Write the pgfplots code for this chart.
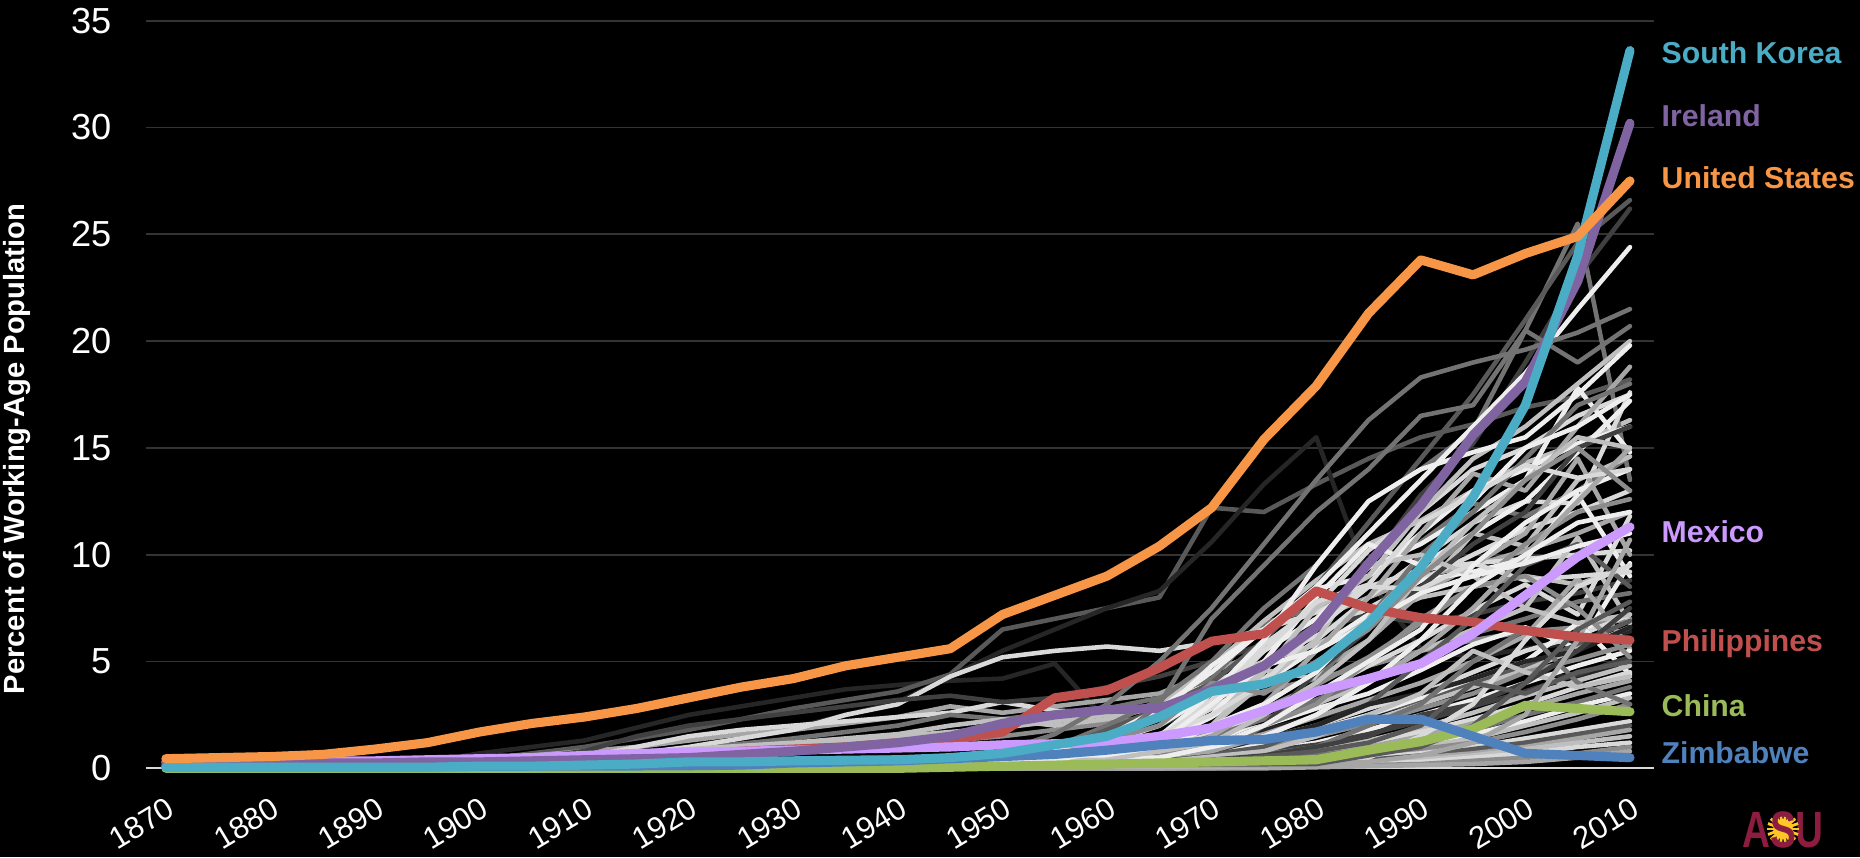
\documentclass[border=0pt]{standalone}
\usepackage{pgfplots}
\pgfplotsset{compat=1.18}
\usepackage{fontspec}
\setmainfont{Liberation Sans}

\definecolor{usor}{HTML}{F79646}
\definecolor{skteal}{HTML}{4BACC6}
\definecolor{irpur}{HTML}{8064A2}
\definecolor{phred}{HTML}{C0504D}
\definecolor{cngreen}{HTML}{9BBB59}
\definecolor{zwblue}{HTML}{4F81BD}
\definecolor{mxlav}{HTML}{CC99FF}
\definecolor{gridc}{HTML}{333333}
\definecolor{zeroc}{HTML}{D9D9D9}
\definecolor{asumaroon}{HTML}{8C1D40}
\definecolor{asugold}{HTML}{FFC627}
\definecolor{g1}{HTML}{262626}
\definecolor{g2}{HTML}{404040}
\definecolor{g3}{HTML}{595959}
\definecolor{g4}{HTML}{737373}
\definecolor{g5}{HTML}{8C8C8C}
\definecolor{g6}{HTML}{A6A6A6}
\definecolor{g7}{HTML}{BFBFBF}
\definecolor{g8}{HTML}{D9D9D9}
\definecolor{g9}{HTML}{EEEEEE}

% one grey country line
\newcommand{\gline}[2]{\addplot[gl, color=#1] coordinates {#2};}

\begin{document}
\begin{tikzpicture}
\fill[black] (0,0) rectangle (18.6,8.57);
\useasboundingbox (0,0) rectangle (18.6,8.57);
\begin{axis}[
    at={(1.46cm,0.887cm)}, anchor=south west,
    scale only axis, width=15.08cm, height=7.476cm,
    xmin=1868.1, xmax=2012.3, ymin=0, ymax=35,
    clip=false,
    axis line style={draw=none},
    ymajorgrids, grid style={gridc, line width=0.55pt},
    major tick length=0pt,
    xtick={1870,1880,...,2010},
    xticklabels={1870,1880,1890,1900,1910,1920,1930,1940,1950,1960,1970,1980,1990,2000,2010},
    ytick={0,5,...,35},
    yticklabels={0,5,10,15,20,25,30,35},
    ticklabel style={text=white},
    yticklabel style={font=\fontsize{10.3}{12}\selectfont, anchor=east, inner sep=0pt, xshift=-0.34cm},
    xticklabel style={font=\fontsize{8.8}{10}\selectfont, inner sep=0pt, xshift=0.0cm, yshift=-0.27cm, rotate=31, anchor=north east},
    gl/.style={line width=1.3pt, line cap=round, line join=round},
    hl/.style={line width=2.6pt, line cap=round, line join=round},
]
\draw[zeroc, line width=0.6pt] (axis cs:1868.1,0) -- (axis cs:2012.3,0);

% early risers
\gline{g1}{(1870,0)(1890,0.1)(1895,0.3)(1900,0.7)(1905,1.0)(1910,1.3)(1915,1.9)(1920,2.5)(1925,2.9)(1930,3.3)(1935,3.7)(1940,3.9)(1945,4.1)(1950,4.2)(1955,4.9)(1960,2.2)(1965,0.6)(1970,1.2)(1975,1.8)(1980,2.4)(1985,3.0)(1990,3.3)(1995,3.9)(2000,4.6)(2005,4.2)(2010,4.9)}
\gline{g3}{(1870,0)(1895,0.1)(1900,0.4)(1905,0.7)(1910,1.0)(1915,1.4)(1920,1.8)(1925,2.3)(1930,2.8)(1935,3.2)(1940,3.6)(1945,4.4)(1950,6.5)(1955,7.0)(1960,7.5)(1965,8.0)(1970,12.2)(1975,12.0)(1980,13.3)(1985,14.5)(1990,15.5)(1995,16.1)(2000,16.9)(2005,17.4)(2010,18.2)}
\gline{g1}{(1870,0)(1905,0.1)(1910,0.3)(1915,0.6)(1920,1.0)(1925,1.4)(1930,1.9)(1935,2.5)(1940,3.1)(1945,4.3)(1950,5.5)(1955,6.5)(1960,7.5)(1965,8.3)(1970,10.6)(1975,13.3)(1980,15.5)(1985,8.8)(1990,5.6)(1995,5.2)(2000,5.6)(2005,5.9)(2010,6.4)}
\gline{g6}{(1870,0)(1895,0.1)(1900,0.3)(1905,0.6)(1910,0.8)(1915,1.0)(1920,1.3)(1925,1.6)(1930,1.8)(1935,2.1)(1940,2.4)(1945,2.9)(1950,2.6)(1955,2.9)(1960,3.2)(1965,3.5)(1970,4.5)(1975,5.5)(1980,7.0)(1985,8.0)(1990,9.0)(1995,9.5)(2000,10.2)(2005,11.0)(2010,12.0)}
\gline{g8}{(1870,0)(1900,0.2)(1905,0.3)(1910,0.5)(1915,1.0)(1920,1.5)(1925,1.8)(1930,2.0)(1935,2.2)(1940,2.4)(1945,2.6)(1950,3.1)(1955,2.7)(1960,2.6)(1965,3.0)(1970,4.0)(1975,5.0)(1980,6.2)(1985,7.5)(1990,8.8)(1995,10.0)(2000,11.2)(2005,12.0)(2010,13.0)}
\gline{g4}{(1870,0)(1900,0.1)(1910,0.4)(1920,0.9)(1930,1.4)(1940,2.0)(1945,2.5)(1950,2.3)(1955,2.6)(1960,2.8)(1965,3.3)(1970,4.2)(1975,6.8)(1980,7.5)(1985,9.0)(1990,10.6)(1995,12.4)(2000,11.8)(2005,13.0)(2010,14.6)}
\gline{g7}{(1870,0)(1910,0.2)(1920,0.6)(1930,1.0)(1940,1.5)(1945,1.7)(1950,1.9)(1955,2.2)(1960,2.5)(1965,3.0)(1970,3.8)(1975,5.0)(1980,5.8)(1985,7.0)(1990,8.0)(1995,8.5)(2000,9.0)(2005,8.6)(2010,9.5)}
\gline{g5}{(1870,0)(1900,0.1)(1910,0.3)(1920,0.7)(1930,1.0)(1940,1.2)(1945,1.3)(1950,1.5)(1955,1.8)(1960,2.1)(1965,2.5)(1970,3.0)(1975,3.6)(1980,4.2)(1985,4.8)(1990,5.5)(1995,6.0)(2000,6.4)(2005,6.6)(2010,7.0)}
\gline{g8}{(1870,0)(1910,0.4)(1920,1.0)(1925,1.4)(1930,1.8)(1935,2.5)(1940,3.0)(1945,4.3)(1950,5.2)(1955,5.5)(1960,5.7)(1965,5.5)(1970,5.9)(1975,6.5)(1980,7.3)(1985,8.5)(1990,9.3)(1995,9.6)(2000,9.8)(2005,10.0)(2010,10.2)}
\gline{g2}{(1870,0)(1895,0.1)(1900,0.2)(1905,0.5)(1910,0.8)(1915,1.5)(1920,2.0)(1925,2.3)(1930,2.6)(1935,2.9)(1940,3.2)(1945,3.4)(1950,3.1)(1955,3.3)(1960,3.8)(1965,4.3)(1970,5.0)(1975,5.8)(1980,6.5)(1985,7.2)(1990,6.8)(1995,7.2)(2000,7.8)(2005,8.2)(2010,8.8)}
\gline{g7}{(1870,0)(1890,0.1)(1900,0.3)(1910,0.6)(1920,0.9)(1930,1.2)(1940,1.6)(1945,2.0)(1950,2.3)(1955,2.0)(1960,2.3)(1965,2.9)(1970,4.8)(1975,6.9)(1980,8.8)(1985,10.5)(1990,11.6)(1995,13.0)(2000,14.3)(2005,15.2)(2010,16.3)}

% post-war risers
\gline{g4}{(1870,0)(1940,0.1)(1950,0.5)(1955,1.0)(1960,2.0)(1965,3.2)(1970,5.0)(1975,7.5)(1980,9.5)(1985,12.5)(1990,14.0)(1995,15.8)(2000,20.5)(2005,25.5)(2010,13.5)}
\gline{g3}{(1870,0)(1940,0.1)(1950,0.4)(1955,0.9)(1960,1.8)(1965,2.8)(1970,4.0)(1975,6.0)(1980,8.5)(1985,11.5)(1990,14.5)(1995,17.5)(2000,21.0)(2005,24.6)(2010,26.6)}
\gline{g2}{(1870,0)(1940,0.1)(1950,0.3)(1955,0.6)(1960,1.2)(1965,2.0)(1970,3.2)(1975,4.8)(1980,6.8)(1985,9.5)(1990,12.8)(1995,15.2)(2000,19.0)(2005,23.0)(2010,26.2)}
\gline{g9}{(1870,0)(1940,0.1)(1950,0.6)(1955,1.0)(1960,1.5)(1965,2.8)(1970,4.5)(1975,6.5)(1980,8.5)(1985,11.0)(1990,13.5)(1995,16.0)(2000,18.5)(2005,21.5)(2010,24.4)}
\gline{g4}{(1870,0)(1940,0.2)(1950,0.8)(1955,1.6)(1960,3.0)(1965,5.0)(1970,7.5)(1975,10.5)(1980,13.5)(1985,16.3)(1990,18.3)(1995,19.0)(2000,19.6)(2005,20.4)(2010,21.5)}

\gline{g9}{(1870,0)(1940,0.05)(1950,0.5)(1955,0.8)(1960,1.2)(1965,2.0)(1970,3.5)(1975,5.5)(1980,7.0)(1985,9.4)(1990,10.5)(1995,12.0)(2000,13.5)(2005,17.8)(2010,14.8)}
\gline{g8}{(1870,0)(1940,0.05)(1950,0.3)(1955,0.5)(1960,0.9)(1965,1.5)(1970,2.8)(1975,4.2)(1980,6.0)(1985,8.0)(1990,9.8)(1995,11.5)(2000,12.5)(2005,12.4)(2010,17.6)}
\gline{g7}{(1870,0)(1940,0.05)(1950,0.4)(1955,0.6)(1960,1.0)(1965,1.6)(1970,2.5)(1975,4.6)(1980,4.2)(1985,7.0)(1990,8.2)(1995,11.0)(2000,10.4)(2005,13.5)(2010,14.6)}
\gline{g9}{(1870,0)(1940,0.05)(1950,0.6)(1955,1.0)(1960,1.5)(1965,2.5)(1970,4.8)(1975,6.5)(1980,8.4)(1985,9.0)(1990,11.0)(1995,13.0)(2000,14.0)(2005,15.2)(2010,16.0)}
\gline{g6}{(1870,0)(1940,0.05)(1950,0.2)(1955,0.4)(1960,0.7)(1965,1.2)(1970,2.0)(1975,3.0)(1980,4.5)(1985,6.0)(1990,8.2)(1995,9.5)(2000,11.0)(2005,14.5)(2010,10.0)}
\gline{g8}{(1870,0)(1940,0.05)(1950,0.3)(1955,0.5)(1960,0.8)(1965,1.5)(1970,3.2)(1975,5.8)(1980,7.6)(1985,10.2)(1990,12.0)(1995,14.0)(2000,15.0)(2005,16.5)(2010,17.5)}
\gline{g5}{(1870,0)(1940,0.05)(1950,0.1)(1955,0.2)(1960,0.5)(1965,1.0)(1970,1.8)(1975,2.8)(1980,3.9)(1985,5.2)(1990,6.8)(1995,8.5)(2000,10.5)(2005,12.0)(2010,12.6)}
\gline{g9}{(1870,0)(1940,0.05)(1950,0.2)(1955,0.4)(1960,0.6)(1965,1.2)(1970,2.4)(1975,4.0)(1980,5.6)(1985,7.2)(1990,8.8)(1995,9.2)(2000,9.8)(2005,12.8)(2010,9.0)}
\gline{g8}{(1870,0)(1940,0.05)(1950,0.2)(1955,0.3)(1960,0.5)(1965,0.9)(1970,1.6)(1975,2.6)(1980,3.5)(1985,4.8)(1990,6.0)(1995,7.4)(2000,8.6)(2005,7.2)(2010,11.8)}
\gline{g7}{(1870,0)(1940,0.05)(1950,0.1)(1955,0.3)(1960,0.5)(1965,0.8)(1970,1.4)(1975,2.0)(1980,3.0)(1985,4.0)(1990,5.5)(1995,6.5)(2000,7.5)(2005,10.8)(2010,6.8)}
\gline{g4}{(1870,0)(1940,0.05)(1950,0.1)(1955,0.2)(1960,0.4)(1965,0.8)(1970,1.5)(1975,2.3)(1980,3.2)(1985,4.2)(1990,5.0)(1995,6.3)(2000,7.0)(2005,7.8)(2010,8.2)}
\gline{g9}{(1870,0)(1940,0.05)(1950,0.2)(1955,0.3)(1960,0.5)(1965,0.8)(1970,1.3)(1975,2.0)(1980,2.8)(1985,3.5)(1990,4.6)(1995,5.8)(2000,6.6)(2005,5.6)(2010,9.6)}
\gline{g6}{(1870,0)(1940,0.05)(1950,0.1)(1955,0.2)(1960,0.3)(1965,0.6)(1970,1.0)(1975,1.6)(1980,2.4)(1985,3.2)(1990,4.0)(1995,5.0)(2000,6.2)(2005,8.9)(2010,5.6)}
\gline{g8}{(1870,0)(1940,0.05)(1950,0.1)(1955,0.2)(1960,0.3)(1965,0.5)(1970,0.9)(1975,1.4)(1980,2.0)(1985,2.8)(1990,3.5)(1995,4.5)(2000,5.5)(2005,6.2)(2010,7.2)}
\gline{g3}{(1870,0)(1940,0.05)(1950,0.1)(1955,0.2)(1960,0.3)(1965,0.5)(1970,0.8)(1975,1.2)(1980,1.8)(1985,2.5)(1990,3.2)(1995,4.0)(2000,4.8)(2005,5.8)(2010,6.9)}
\gline{g7}{(1870,0)(1940,0.05)(1950,0.05)(1955,0.1)(1960,0.2)(1965,0.4)(1970,0.7)(1975,1.0)(1980,1.5)(1985,2.2)(1990,3.0)(1995,3.8)(2000,4.6)(2005,5.6)(2010,6.6)}
\gline{g9}{(1870,0)(1940,0.05)(1950,0.1)(1955,0.2)(1960,0.3)(1965,0.5)(1970,0.8)(1975,1.2)(1980,1.8)(1985,2.5)(1990,3.3)(1995,4.2)(2000,5.0)(2005,6.8)(2010,4.4)}
\gline{g5}{(1870,0)(1940,0.05)(1950,0.05)(1955,0.1)(1960,0.2)(1965,0.3)(1970,0.6)(1975,1.0)(1980,1.5)(1985,2.1)(1990,2.8)(1995,3.5)(2000,4.5)(2005,5.1)(2010,5.8)}
\gline{g9}{(1870,0)(1940,0.05)(1950,0.05)(1955,0.1)(1960,0.2)(1965,0.3)(1970,0.5)(1975,0.8)(1980,1.2)(1985,1.8)(1990,2.5)(1995,3.2)(2000,4.0)(2005,4.8)(2010,5.5)}
\gline{g2}{(1870,0)(1940,0.05)(1950,0.05)(1955,0.1)(1960,0.2)(1965,0.3)(1970,0.5)(1975,0.8)(1980,1.1)(1985,1.6)(1990,2.2)(1995,2.9)(2000,3.6)(2005,4.4)(2010,5.2)}
\gline{g7}{(1870,0)(1940,0.05)(1950,0.05)(1955,0.1)(1960,0.15)(1965,0.25)(1970,0.4)(1975,0.6)(1980,0.9)(1985,1.3)(1990,1.9)(1995,2.6)(2000,3.4)(2005,4.1)(2010,4.8)}
\gline{g8}{(1870,0)(1940,0.05)(1950,0.05)(1955,0.1)(1960,0.15)(1965,0.2)(1970,0.35)(1975,0.5)(1980,0.8)(1985,1.2)(1990,1.7)(1995,2.3)(2000,3.0)(2005,3.8)(2010,4.5)}
\gline{g6}{(1870,0)(1950,0)(1955,0.05)(1960,0.1)(1965,0.2)(1970,0.3)(1975,0.5)(1980,0.7)(1985,1.0)(1990,1.5)(1995,2.1)(2000,2.8)(2005,3.5)(2010,4.1)}
\gline{g4}{(1870,0)(1950,0)(1955,0.05)(1960,0.1)(1965,0.15)(1970,0.25)(1975,0.4)(1980,0.6)(1985,0.9)(1990,1.3)(1995,1.8)(2000,2.5)(2005,3.1)(2010,3.8)}
\gline{g9}{(1870,0)(1950,0)(1955,0.05)(1960,0.1)(1965,0.15)(1970,0.2)(1975,0.35)(1980,0.5)(1985,0.8)(1990,1.2)(1995,1.6)(2000,2.2)(2005,2.9)(2010,3.5)}
\gline{g7}{(1870,0)(1955,0)(1960,0.05)(1965,0.1)(1970,0.2)(1975,0.3)(1980,0.45)(1985,0.7)(1990,1.0)(1995,1.4)(2000,2.0)(2005,2.6)(2010,3.3)}
\gline{g5}{(1870,0)(1955,0)(1960,0.05)(1965,0.1)(1970,0.15)(1975,0.25)(1980,0.4)(1985,0.6)(1990,0.9)(1995,1.2)(2000,1.7)(2005,2.3)(2010,3.0)}
\gline{g8}{(1870,0)(1955,0)(1960,0.05)(1965,0.1)(1970,0.15)(1975,0.2)(1980,0.3)(1985,0.5)(1990,0.7)(1995,1.0)(2000,1.4)(2005,1.8)(2010,2.2)}
\gline{g3}{(1870,0)(1960,0)(1965,0.05)(1970,0.1)(1975,0.15)(1980,0.25)(1985,0.4)(1990,0.6)(1995,0.9)(2000,1.2)(2005,1.6)(2010,2.0)}
\gline{g6}{(1870,0)(1960,0)(1965,0.05)(1970,0.1)(1975,0.15)(1980,0.2)(1985,0.3)(1990,0.5)(1995,0.7)(2000,1.0)(2005,1.4)(2010,1.8)}
\gline{g7}{(1870,0)(1965,0)(1970,0.05)(1975,0.1)(1980,0.15)(1985,0.25)(1990,0.4)(1995,0.6)(2000,0.9)(2005,1.2)(2010,1.5)}
\gline{g8}{(1870,0)(1965,0)(1970,0.05)(1975,0.1)(1980,0.15)(1985,0.2)(1990,0.3)(1995,0.5)(2000,0.7)(2005,1.0)(2010,1.2)}
\gline{g5}{(1870,0)(1970,0)(1975,0.05)(1980,0.1)(1985,0.15)(1990,0.2)(1995,0.35)(2000,0.5)(2005,0.7)(2010,1.0)}
\gline{g6}{(1870,0)(1975,0)(1980,0.05)(1985,0.1)(1990,0.15)(1995,0.2)(2000,0.3)(2005,0.5)(2010,0.8)}

% late fan
\gline{g4}{(1870,0)(1945,0.1)(1955,0.3)(1960,1.0)(1965,3.0)(1970,7.0)(1975,9.5)(1980,12.0)(1985,14.0)(1990,16.5)(1995,17.0)(2000,20.5)(2005,19.0)(2010,20.7)}
\gline{g7}{(1870,0)(1950,0.1)(1960,0.5)(1965,1.0)(1970,2.0)(1975,4.5)(1980,7.5)(1985,9.0)(1990,12.0)(1995,14.5)(2000,16.0)(2005,18.0)(2010,20.0)}
\gline{g9}{(1870,0)(1950,0.2)(1960,0.6)(1965,1.5)(1970,3.5)(1975,6.0)(1980,9.5)(1985,12.5)(1990,14.0)(1995,14.8)(2000,15.5)(2005,17.5)(2010,19.8)}
\gline{g6}{(1870,0)(1955,0.1)(1965,0.5)(1970,1.5)(1975,3.0)(1980,5.5)(1985,8.0)(1990,11.0)(1995,13.8)(2000,13.0)(2005,16.0)(2010,18.8)}
\gline{g4}{(1870,0)(1960,0.1)(1970,0.5)(1975,2.0)(1980,4.0)(1985,7.0)(1990,10.0)(1995,12.0)(2000,14.5)(2005,17.0)(2010,18.0)}
\gline{g9}{(1870,0)(1955,0.2)(1965,1.0)(1970,2.5)(1975,5.0)(1980,8.0)(1985,10.5)(1990,9.5)(1995,11.0)(2000,12.5)(2005,14.8)(2010,17.2)}
\gline{g2}{(1870,0)(1955,0.1)(1965,0.4)(1970,1.0)(1975,2.0)(1980,4.5)(1985,6.5)(1990,8.5)(1995,10.5)(2000,12.0)(2005,15.0)(2010,16.0)}
\gline{g7}{(1870,0)(1960,0.5)(1970,2.0)(1975,4.0)(1980,6.0)(1985,9.5)(1990,10.0)(1995,9.0)(2000,7.5)(2005,6.8)(2010,7.2)}
\gline{g8}{(1870,0)(1955,0.4)(1965,1.5)(1970,2.5)(1975,4.0)(1980,6.5)(1985,8.5)(1990,8.4)(1995,9.6)(2000,8.8)(2005,9.0)(2010,9.2)}
\gline{g5}{(1870,0)(1960,0.3)(1970,1.0)(1975,2.0)(1980,3.0)(1985,5.0)(1990,7.0)(1995,8.5)(2000,9.0)(2005,7.5)(2010,5.2)}
\gline{g9}{(1870,0)(1955,0.1)(1965,0.5)(1970,1.0)(1975,2.0)(1980,3.5)(1985,5.0)(1990,6.5)(1995,9.5)(2000,11.5)(2005,13.0)(2010,14.0)}
\gline{g3}{(1870,0)(1965,0.3)(1975,1.0)(1980,2.0)(1985,3.0)(1990,5.0)(1995,7.0)(2000,9.5)(2005,10.5)(2010,8.5)}
\gline{g1}{(1870,0)(1960,0.3)(1970,0.8)(1975,1.4)(1980,2.0)(1985,3.0)(1990,3.5)(1995,4.2)(2000,5.0)(2005,5.5)(2010,6.6)}
\gline{g6}{(1870,0)(1960,0.3)(1970,0.8)(1975,1.5)(1980,2.5)(1985,4.0)(1990,5.5)(1995,7.5)(2000,10.0)(2005,12.5)(2010,15.0)}
\gline{g9}{(1870,0)(1965,0.5)(1975,1.5)(1980,2.5)(1985,4.0)(1990,6.0)(1995,8.5)(2000,10.0)(2005,11.5)(2010,12.0)}
\gline{g4}{(1870,0)(1970,0.3)(1980,1.0)(1985,2.0)(1990,3.0)(1995,5.0)(2000,6.5)(2005,4.0)(2010,3.0)}
\gline{g7}{(1870,0)(1965,0.3)(1975,0.8)(1980,1.5)(1985,2.5)(1990,3.5)(1995,5.5)(2000,4.5)(2005,3.8)(2010,4.3)}
\gline{g2}{(1870,0)(1965,0.2)(1975,0.6)(1980,1.0)(1985,1.5)(1990,2.5)(1995,3.0)(2000,4.0)(2005,5.5)(2010,7.5)}
\gline{g8}{(1870,0)(1975,0.1)(1985,0.5)(1990,1.5)(1995,3.0)(2000,6.0)(2005,8.5)(2010,9.5)}
\gline{g3}{(1870,0)(1970,0.3)(1980,0.8)(1985,1.2)(1990,2.0)(1995,4.0)(2000,3.5)(2005,4.5)(2010,5.0)}
\gline{g9}{(1870,0)(1955,0.3)(1965,0.8)(1970,2.0)(1975,3.0)(1980,4.5)(1985,7.0)(1990,9.5)(1995,12.5)(2000,15.0)(2005,16.0)(2010,17.5)}
\gline{g7}{(1870,0)(1960,0.4)(1970,1.2)(1975,2.5)(1980,4.0)(1985,6.0)(1990,9.0)(1995,11.5)(2000,13.5)(2005,15.5)(2010,15.0)}
\gline{g6}{(1870,0)(1975,0.1)(1985,0.3)(1990,0.6)(1995,1.2)(2000,2.5)(2005,6.0)(2010,10.7)}
\gline{g8}{(1870,0)(1955,0.5)(1965,1.5)(1970,3.0)(1975,5.5)(1980,7.8)(1985,8.6)(1990,11.5)(1995,12.8)(2000,14.2)(2005,13.6)(2010,14.0)}
\gline{g9}{(1870,0)(1955,0.4)(1965,1.2)(1970,3.0)(1975,4.8)(1980,5.5)(1985,6.8)(1990,8.2)(1995,9.0)(2000,9.6)(2005,10.4)(2010,11.0)}
\gline{g5}{(1870,0)(1955,0.6)(1965,2.0)(1970,4.0)(1975,3.5)(1980,5.0)(1985,6.5)(1990,9.0)(1995,11.0)(2000,13.5)(2005,15.0)(2010,13.0)}
\gline{g3}{(1870,0)(1980,0.2)(1990,1.0)(1995,2.0)(2000,4.0)(2005,6.5)(2010,7.8)}

% highlighted countries
\addplot[hl, phred] coordinates {(1870,0.1)(1875,0.1)(1880,0.1)(1885,0.1)(1890,0.1)(1895,0.1)(1900,0.1)(1905,0.2)(1910,0.3)(1915,0.4)(1920,0.6)(1925,0.8)(1930,0.9)(1935,1.0)(1940,1.2)(1945,1.35)(1950,1.7)(1955,3.3)(1960,3.65)(1965,4.7)(1970,5.95)(1975,6.3)(1980,8.3)(1985,7.5)(1990,7.05)(1995,6.85)(2000,6.45)(2005,6.15)(2010,6.0)};
\addplot[hl, cngreen] coordinates {(1870,0)(1875,0)(1880,0)(1885,0)(1890,0)(1895,0)(1900,0)(1905,0)(1910,0)(1915,0)(1920,0)(1925,0)(1930,0)(1935,0)(1940,0)(1945,0.05)(1950,0.1)(1955,0.15)(1960,0.2)(1965,0.25)(1970,0.3)(1975,0.35)(1980,0.4)(1985,0.85)(1990,1.25)(1995,1.85)(2000,2.95)(2005,2.8)(2010,2.65)};
\addplot[hl, mxlav] coordinates {(1870,0.3)(1875,0.3)(1880,0.3)(1885,0.35)(1890,0.35)(1895,0.4)(1900,0.45)(1905,0.5)(1910,0.6)(1915,0.7)(1920,0.75)(1925,0.8)(1930,0.85)(1935,0.9)(1940,0.95)(1945,1.0)(1950,1.1)(1955,1.15)(1960,1.2)(1965,1.5)(1970,1.9)(1975,2.7)(1980,3.6)(1985,4.2)(1990,4.9)(1995,6.3)(2000,8.1)(2005,9.9)(2010,11.3)};
\addplot[hl, zwblue] coordinates {(1870,0.08)(1875,0.08)(1880,0.08)(1885,0.08)(1890,0.08)(1895,0.08)(1900,0.09)(1905,0.1)(1910,0.1)(1915,0.11)(1920,0.12)(1925,0.15)(1930,0.25)(1935,0.3)(1940,0.35)(1945,0.45)(1950,0.55)(1955,0.65)(1960,0.85)(1965,1.1)(1970,1.3)(1975,1.35)(1980,1.7)(1985,2.3)(1990,2.3)(1995,1.5)(2000,0.7)(2005,0.6)(2010,0.5)};
\addplot[hl, irpur] coordinates {(1870,0.2)(1875,0.2)(1880,0.2)(1885,0.25)(1890,0.25)(1895,0.3)(1900,0.3)(1905,0.35)(1910,0.4)(1915,0.45)(1920,0.5)(1925,0.65)(1930,0.8)(1935,1.0)(1940,1.2)(1945,1.5)(1950,2.1)(1955,2.5)(1960,2.75)(1965,2.8)(1970,3.7)(1975,4.8)(1980,6.6)(1985,9.6)(1990,12.3)(1995,15.6)(2000,18.1)(2005,22.8)(2010,30.2)};
\addplot[hl, skteal] coordinates {(1870,0.05)(1875,0.05)(1880,0.05)(1885,0.05)(1890,0.05)(1895,0.05)(1900,0.1)(1905,0.1)(1910,0.15)(1915,0.2)(1920,0.3)(1925,0.3)(1930,0.35)(1935,0.38)(1940,0.4)(1945,0.5)(1950,0.7)(1955,1.1)(1960,1.5)(1965,2.4)(1970,3.6)(1975,3.95)(1980,4.8)(1985,6.8)(1990,9.4)(1995,12.7)(2000,17.0)(2005,24.0)(2010,33.6)};
\addplot[hl, usor] coordinates {(1870,0.45)(1875,0.5)(1880,0.55)(1885,0.65)(1890,0.9)(1895,1.2)(1900,1.7)(1905,2.1)(1910,2.4)(1915,2.8)(1920,3.3)(1925,3.8)(1930,4.2)(1935,4.8)(1940,5.2)(1945,5.6)(1950,7.2)(1955,8.1)(1960,9.0)(1965,10.4)(1970,12.2)(1975,15.4)(1980,17.9)(1985,21.3)(1990,23.8)(1995,23.1)(2000,24.1)(2005,24.9)(2010,27.5)};
\end{axis}

% axis title
\node[rotate=90, anchor=base, text=white, font=\bfseries\fontsize{8.3}{10}\selectfont, inner sep=0pt] at (0.245,4.08) {Percent of Working-Age Population};

% series names at the line ends
\begin{scope}[every node/.style={anchor=base west, inner sep=0pt, font=\bfseries\fontsize{8.6}{10}\selectfont}]
\node[text=skteal] at (16.61,7.937) {South Korea};
\node[text=irpur]  at (16.61,7.30)  {Ireland};
\node[text=usor]   at (16.61,6.687) {United States};
\node[text=mxlav]  at (16.61,3.143) {Mexico};
\node[text=phred]  at (16.61,2.053) {Philippines};
\node[text=cngreen] at (16.61,1.41) {China};
\node[text=zwblue] at (16.61,0.94)  {Zimbabwe};
\end{scope}

% ASU mark
\node[text=asumaroon, inner sep=0pt, anchor=base, xscale=1.1, yscale=1.45, font=\bfseries\fontsize{10}{10}\selectfont] at (17.83,0.10) {ASU};
\fill[asugold] (17.83,0.28) circle (0.10);
\foreach \a in {0,20,...,340}
  \draw[asugold, line width=0.8pt] (17.83,0.28) ++(\a:0.08) -- ++(\a:0.08);
\node[text=asumaroon, inner sep=0pt, anchor=base, xscale=1.1, yscale=1.45, font=\bfseries\fontsize{10}{10}\selectfont] at (17.83,0.10) {\phantom{A}S\phantom{U}};
\end{tikzpicture}
\end{document}
